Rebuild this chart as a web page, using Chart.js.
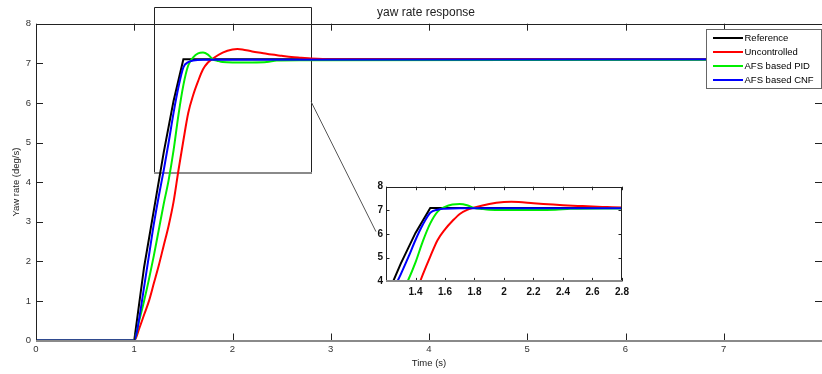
<!DOCTYPE html>
<html>
<head>
<meta charset="utf-8">
<title>yaw rate response</title>
<script src="https://cdn.jsdelivr.net/npm/chart.js@4.4.0/dist/chart.umd.min.js"></script>
<style>
  html, body { margin: 0; padding: 0; background: #fff; }
  #wrap { position: relative; width: 822px; height: 374px; overflow: hidden; }
  #main { position: absolute; left: 0; top: 0; }
  #zoom { position: absolute; left: 360px; top: 176px; }
</style>
</head>
<body>
<div id="wrap">
  <canvas id="main" width="822" height="374"></canvas>
  <canvas id="zoom" width="270" height="130"></canvas>
</div>
<script>
// --- Data (time in s, yaw rate in deg/s)
const refTime = [0, 1.0, 1.1, 1.2, 1.3, 1.4, 1.5, 8];
const refRate = [0, 0, 1.85, 3.3, 4.75, 6.05, 7.1, 7.1];

const uncTime = [0, 1.0, 1.05, 1.1, 1.15, 1.2, 1.25, 1.3, 1.35, 1.4, 1.45, 1.5, 1.55, 1.6, 1.65,
                 1.7, 1.75, 1.8, 1.9, 2.0, 2.05, 2.1, 2.2, 2.3, 2.4, 2.5, 2.6, 2.7, 2.8, 3.0, 8];
const uncRate = [0, 0, 0.3, 0.65, 1.0, 1.45, 1.9, 2.4, 2.9, 3.5, 4.3, 5.05, 5.75, 6.2, 6.55,
                 6.85, 7.02, 7.12, 7.27, 7.35, 7.36, 7.35, 7.3, 7.26, 7.22, 7.19, 7.16, 7.14, 7.12, 7.1, 7.1];

const pidTime = [0, 1.0, 1.05, 1.1, 1.15, 1.2, 1.25, 1.3, 1.35, 1.4, 1.45, 1.5, 1.55, 1.6, 1.65,
                 1.7, 1.75, 1.8, 1.85, 1.9, 2.0, 2.2, 2.35, 2.45, 2.7, 8];
const pidRate = [0, 0, 0.5, 1.0, 1.55, 2.15, 2.8, 3.45, 4.05, 4.8, 5.7, 6.45, 6.95, 7.15, 7.25,
                 7.27, 7.22, 7.1, 7.06, 7.03, 7.02, 7.02, 7.03, 7.07, 7.08, 7.09];

const cnfTime = [0, 1.0, 1.05, 1.1, 1.15, 1.2, 1.25, 1.3, 1.35, 1.4, 1.45, 1.5, 1.55, 1.6, 1.7, 8];
const cnfRate = [0, 0, 0.55, 1.35, 2.15, 2.95, 3.65, 4.3, 5.0, 5.75, 6.4, 6.9, 7.03, 7.07, 7.09, 7.1];

const seriesNames = ["Reference", "Uncontrolled", "AFS based PID", "AFS based CNF"];
const seriesColors = ["#000000", "#ff0000", "#00ee00", "#0000ff"];

// zoom box drawn on the main axes, in data units: [t0, t1, v0, v1]
const zoomBox = [1.2, 2.8, 4.23, 8.41];
// connector from the zoom box to the inset, in main data units
const zoomLink = [[2.8, 6.03], [3.46, 2.75]];

Chart.defaults.font.family = '"Liberation Sans", Arial, sans-serif';
Chart.defaults.color = "#333";

function toPoints(ts, vs) {
  return ts.map((t, i) => ({ x: t, y: vs[i] }));
}

function makeDatasets() {
  const sets = [
    [refTime, refRate],
    [uncTime, uncRate],
    [pidTime, pidRate],
    [cnfTime, cnfRate]
  ];
  return sets.map((s, i) => ({
    label: seriesNames[i],
    data: toPoints(s[0], s[1]),
    borderColor: seriesColors[i],
    backgroundColor: seriesColors[i],
    borderWidth: 2,
    pointRadius: 0,
    fill: false,
    cubicInterpolationMode: i === 0 ? "default" : "monotone",
    tension: 0,
    order: 3 - i   // CNF on top
  }));
}

function crisp(v) { return Math.round(v) + 0.5; }

// ------------------------------------------
// MATLAB style box with inward ticks
// ------------------------------------------
function drawFrame(chart, tickLen, rightLine) {
  const ctx = chart.ctx;
  const { left, right, top, bottom } = chart.chartArea;
  const xs = chart.scales.x, ys = chart.scales.y;
  ctx.save();
  ctx.lineWidth = 1;
  ctx.strokeStyle = "#222";
  ctx.beginPath();
  ctx.moveTo(crisp(left), bottom);
  ctx.lineTo(crisp(left), crisp(top));
  ctx.lineTo(crisp(right) - 1, crisp(top));
  if (rightLine) ctx.lineTo(crisp(right) - 1, bottom);
  xs.ticks.forEach(t => {
    const px = crisp(xs.getPixelForValue(t.value));
    ctx.moveTo(px, bottom);
    ctx.lineTo(px, bottom - tickLen);
    ctx.moveTo(px, top);
    ctx.lineTo(px, top + tickLen);
  });
  ys.ticks.forEach(t => {
    const py = crisp(ys.getPixelForValue(t.value));
    ctx.moveTo(left, py);
    ctx.lineTo(left + tickLen, py);
    ctx.moveTo(right, py);
    ctx.lineTo(right - tickLen, py);
  });
  ctx.stroke();
  // bottom axis is rendered grey and heavier in the figure
  ctx.strokeStyle = "#8a8a8a";
  ctx.lineWidth = 2;
  ctx.beginPath();
  ctx.moveTo(left, Math.round(bottom));
  ctx.lineTo(right, Math.round(bottom));
  ctx.stroke();
  ctx.restore();
}

const mainDecor = {
  id: "mainDecor",
  beforeDatasetsDraw(chart) {
    const ctx = chart.ctx;
    const xs = chart.scales.x, ys = chart.scales.y;
    const x0 = crisp(xs.getPixelForValue(zoomBox[0]));
    const x1 = crisp(xs.getPixelForValue(zoomBox[1]));
    const y0 = Math.round(ys.getPixelForValue(zoomBox[2]));
    const y1 = crisp(ys.getPixelForValue(zoomBox[3]));
    ctx.save();
    ctx.strokeStyle = "#222";
    ctx.lineWidth = 1;
    ctx.beginPath();
    ctx.moveTo(x0, y0);
    ctx.lineTo(x0, y1);
    ctx.lineTo(x1, y1);
    ctx.lineTo(x1, y0);
    ctx.stroke();
    ctx.strokeStyle = "#8a8a8a";
    ctx.lineWidth = 2;
    ctx.beginPath();
    ctx.moveTo(x0 - 0.5, y0);
    ctx.lineTo(x1 + 0.5, y0);
    ctx.stroke();
    // connector to the inset
    ctx.strokeStyle = "#555";
    ctx.lineWidth = 1;
    ctx.beginPath();
    ctx.moveTo(xs.getPixelForValue(zoomLink[0][0]), ys.getPixelForValue(zoomLink[0][1]));
    ctx.lineTo(xs.getPixelForValue(zoomLink[1][0]), ys.getPixelForValue(zoomLink[1][1]));
    ctx.stroke();
    ctx.restore();
  },
  afterDraw(chart) {
    drawFrame(chart, 7, false);
    const ctx = chart.ctx;
    const area = chart.chartArea;

    // --- title
    ctx.save();
    ctx.fillStyle = "#222";
    ctx.font = '12px "Liberation Sans", Arial, sans-serif';
    ctx.textAlign = "center";
    ctx.textBaseline = "middle";
    ctx.fillText("yaw rate response", (area.left + area.right) / 2 - 3, 13);

    // --- legend box
    const bx = 706, by = 29, bw = 115, bh = 59;
    ctx.fillStyle = "#fff";
    ctx.fillRect(bx, by, bw, bh);
    ctx.strokeStyle = "#666";
    ctx.lineWidth = 1;
    ctx.strokeRect(bx + 0.5, by + 0.5, bw, bh);
    ctx.font = '9.5px "Liberation Sans", Arial, sans-serif';
    ctx.textAlign = "left";
    chart.data.datasets.forEach((ds, i) => {
      const ry = Math.round(by + 8.7 + i * 14.1);
      ctx.strokeStyle = ds.borderColor;
      ctx.lineWidth = 2;
      ctx.beginPath();
      ctx.moveTo(bx + 7, ry);
      ctx.lineTo(bx + 37, ry);
      ctx.stroke();
      ctx.fillStyle = "#000";
      ctx.fillText(ds.label, bx + 38.5, ry);
    });
    ctx.restore();
  }
};

new Chart(document.getElementById("main"), {
  type: "line",
  data: { datasets: makeDatasets() },
  plugins: [mainDecor],
  options: {
    responsive: false,
    animation: false,
    events: [],
    layout: { padding: { top: 23.7, right: 0, left: 0, bottom: 0 } },
    plugins: { legend: { display: false }, title: { display: false }, tooltip: { enabled: false } },
    scales: {
      x: {
        type: "linear", min: 0, max: 8,
        grid: { display: false, drawTicks: false },
        border: { display: false },
        ticks: {
          stepSize: 1, padding: 3, maxRotation: 0,
          font: { size: 9.5 },
          callback: v => (v === 8 ? "" : v)
        },
        title: { display: true, text: "Time (s)", color: "#222", font: { size: 9.5 }, padding: { top: 0, bottom: 4.7 } },
        afterFit: s => { s.height = 33.5; s.paddingRight = 0; }
      },
      y: {
        type: "linear", min: 0, max: 8,
        grid: { display: false, drawTicks: false },
        border: { display: false },
        ticks: { stepSize: 1, padding: 5, font: { size: 9.5 } },
        title: { display: true, text: "Yaw rate (deg/s)", color: "#222", font: { size: 9.5 }, padding: { top: 11, bottom: 0 } },
        afterFit: s => { s.width = 36; }
      }
    }
  }
});

// ------------------------------------------
// INSET (zoomed view)
// ------------------------------------------
const insetDecor = {
  id: "insetDecor",
  beforeDraw(chart) {
    const { left, right, top, bottom } = chart.chartArea;
    chart.ctx.save();
    chart.ctx.fillStyle = "#fff";
    chart.ctx.fillRect(left, top, right - left, bottom - top);
    chart.ctx.restore();
  },
  afterDraw(chart) {
    drawFrame(chart, 3.5, true);
  }
};

new Chart(document.getElementById("zoom"), {
  type: "line",
  data: { datasets: makeDatasets() },
  plugins: [insetDecor],
  options: {
    responsive: false,
    animation: false,
    events: [],
    layout: { padding: { top: 10.7, right: 8, left: 0, bottom: 0 } },
    plugins: { legend: { display: false }, title: { display: false }, tooltip: { enabled: false } },
    scales: {
      x: {
        type: "linear", min: 1.2, max: 2.8,
        grid: { display: false, drawTicks: false },
        border: { display: false },
        ticks: {
          stepSize: 0.2, padding: 5, maxRotation: 0, autoSkip: false,
          color: "#111",
          font: { size: 10, weight: "bold" },
          callback: v => (Math.abs(v - 1.2) < 1e-6 ? "" : Math.round(v * 10) / 10)
        },
        afterFit: s => { s.height = 24.6; s.paddingRight = 0; s.paddingLeft = 0; }
      },
      y: {
        type: "linear", min: 4, max: 8,
        grid: { display: false, drawTicks: false },
        border: { display: false },
        ticks: { stepSize: 1, padding: 3, color: "#111", font: { size: 10, weight: "bold" } },
        afterFit: s => { s.width = 26; }
      }
    }
  }
});
</script>
</body>
</html>
